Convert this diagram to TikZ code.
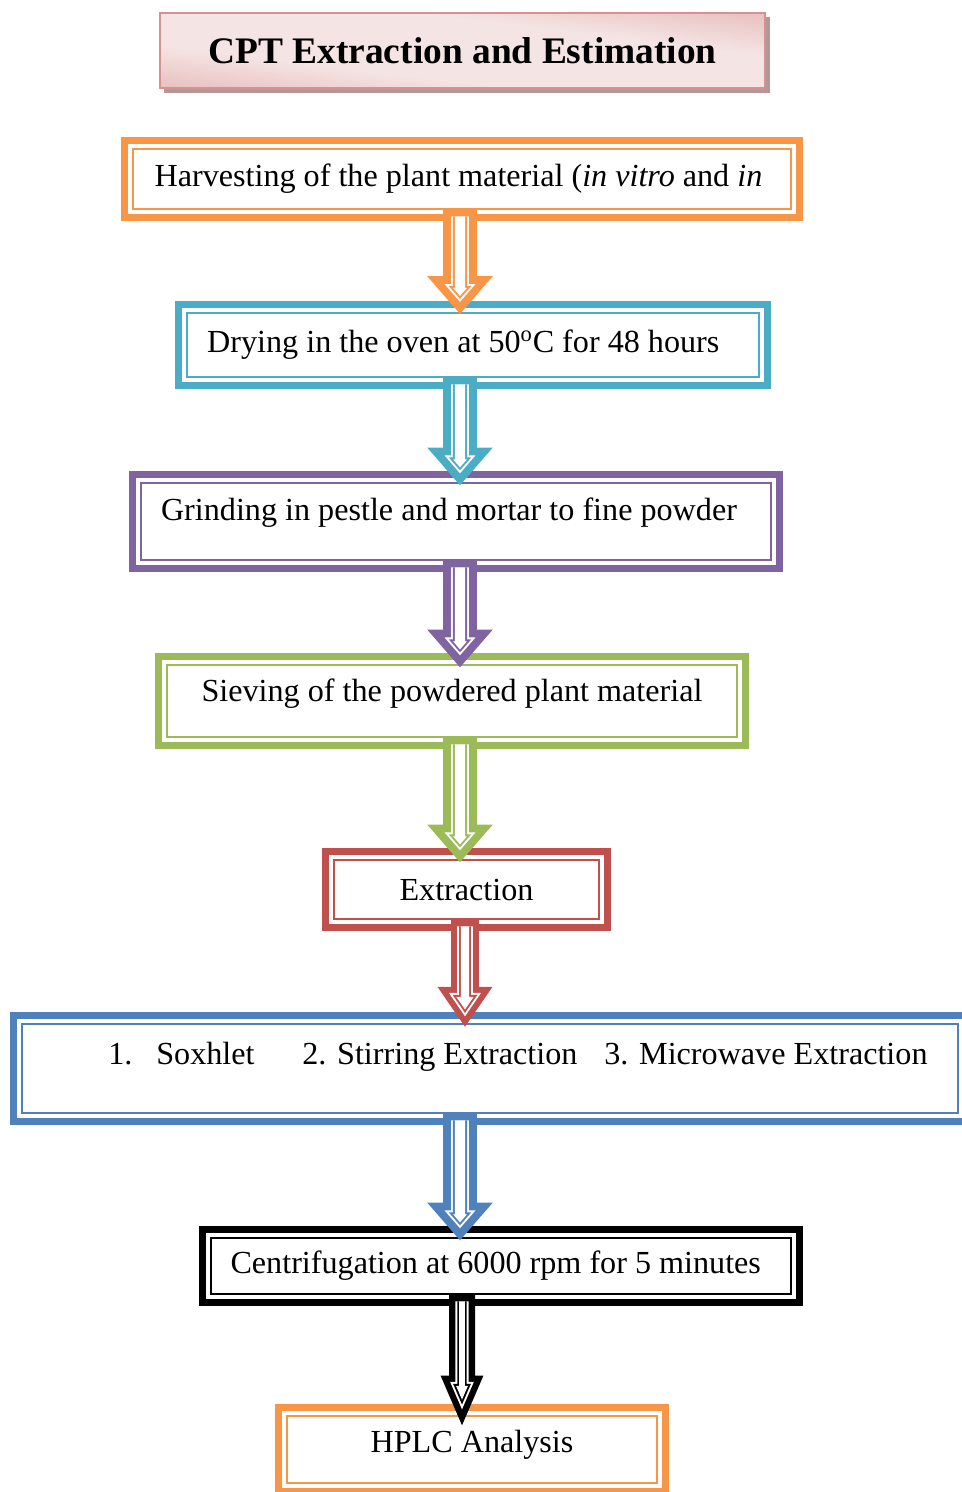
\documentclass[tikz,border=0pt]{standalone}
\usepackage{fontspec}
\setmainfont{Liberation Serif}
\usetikzlibrary{backgrounds}

\definecolor{flowOrange}{RGB}{247,150,70}
\definecolor{flowTeal}{RGB}{75,172,198}
\definecolor{flowPurple}{RGB}{128,100,162}
\definecolor{flowGreen}{RGB}{155,187,89}
\definecolor{flowRed}{RGB}{192,80,77}
\definecolor{flowBlue}{RGB}{79,129,189}
\definecolor{titleDark}{RGB}{215,145,143}
\definecolor{titleLight}{RGB}{245,228,228}
\definecolor{titleShadow}{RGB}{178,152,152}

\pgfdeclareverticalshading{titleshade}{100bp}{color(0bp)=(titleDark); color(42bp)=(titleDark);
  color(48bp)=(titleLight); color(52bp)=(titleLight); color(58bp)=(titleDark); color(100bp)=(titleDark)}

\tikzset{
  stepbox/.style={draw=#1, line width=1.4pt, fill=white, inner sep=0pt,
    font=\fontsize{18.3}{22}\selectfont},
  titlebox/.style={draw=titleDark, line width=0.8pt,
    font=\fontsize{21.3}{25}\selectfont\bfseries},
  itemtext/.style={anchor=base west, inner sep=0pt, font=\fontsize{18.3}{22}\selectfont}
}

% one filled layer of a block arrow, inset by #2 pt
\newcommand{\arrowlayer}[6]{%
  \fill[#1] ([xshift={-(#4-(#2))*1pt}, yshift={-(#3)*1pt}]s)
    -- ([xshift={-(#4-(#2))*1pt}, yshift={(#6-(#2))*1pt}]t)
    -- ([xshift={-(#5*(#6-(#2))/#6-(#2)*veclen(#5,#6)/#6)*1pt}, yshift={(#6-(#2))*1pt}]t)
    -- ([yshift={(#2)*veclen(#5,#6)/#5*1pt}]t)
    -- ([xshift={(#5*(#6-(#2))/#6-(#2)*veclen(#5,#6)/#6)*1pt}, yshift={(#6-(#2))*1pt}]t)
    -- ([xshift={(#4-(#2))*1pt}, yshift={(#6-(#2))*1pt}]t)
    -- ([xshift={(#4-(#2))*1pt}, yshift={-(#3)*1pt}]s) -- cycle;}

% colour, from, to, axis x, half shaft, half head, head length, inset, tip drop
\newcommand{\flowarrow}[9]{%
  \coordinate (ax) at (#4,0);
  \path (#2.south -| ax) coordinate (s);
  \path (#3.north -| ax) ++(0,-#9pt) coordinate (t);
  \arrowlayer{#1}{0}{0}{#5}{#6}{#7}
  \arrowlayer{white}{#8}{3.5}{#5}{#6}{#7}
  \arrowlayer{#1}{#8+1.1}{3.5}{#5}{#6}{#7}
  \arrowlayer{white}{#8+2.2}{3.5}{#5}{#6}{#7}}

\begin{document}
\begin{tikzpicture}[x=0.02cm, y=-0.02cm]
  \useasboundingbox (0,0) rectangle (961,1492);

  % title
  \node[titlebox, minimum width=12.1cm, minimum height=1.5cm] (title) at (462.5,50.5)
    {CPT Extraction and Estimation};
  \begin{scope}[on background layer]
    \fill[titleShadow] ([shift={(2.6pt,-2.6pt)}]title.south west)
      rectangle ([shift={(2.6pt,-2.6pt)}]title.north east);
    \clip (title.south west) rectangle (title.north east);
    \begin{scope}[shift={(title.center)}]
      \shade[shading=titleshade, shading angle=-7] (-400,-400) rectangle (400,400);
    \end{scope}
  \end{scope}

  % steps
  \node[stepbox=flowOrange, minimum width=13.16cm, minimum height=1.2cm] (harvest) at (462,179)
    {Harvesting of the plant material (\textit{in vitro} and \textit{in}\hspace*{4pt}};
  \node[stepbox=flowTeal, minimum width=11.44cm, minimum height=1.28cm] (dry) at (473,345)
    {Drying in the oven at 50\textsuperscript{o}C for 48 hours\hspace*{11pt}};
  \node[stepbox=flowPurple, minimum width=12.6cm, minimum height=1.54cm, text depth=14pt] (grind) at (456,521.5)
    {Grinding in pestle and mortar to fine powder\hspace*{8pt}};
  \node[stepbox=flowGreen, minimum width=11.4cm, minimum height=1.44cm, text depth=12pt] (sieve) at (452,701)
    {Sieving of the powdered plant material};
  \node[stepbox=flowRed, minimum width=5.3cm, minimum height=1.18cm] (extract) at (466.5,889.5)
    {Extraction};
  \node[stepbox=flowBlue, minimum width=18.72cm, minimum height=1.78cm] (methods) at (490,1068.5) {};
  \node[stepbox=black, minimum width=11.6cm, minimum height=1.12cm] (centri) at (501,1266)
    {Centrifugation at 6000 rpm for 5 minutes\hspace*{6pt}};
  \node[stepbox=flowOrange, minimum width=7.4cm, minimum height=1.34cm, text depth=9pt] (hplc) at (472,1449.5)
    {HPLC Analysis};

  % methods
  \node[itemtext] (num1) at (108,1064) {1.};
  \node[itemtext] (soxhlet) at (156,1064) {Soxhlet};
  \node[itemtext] (stirring) at (302,1064) {2. Stirring Extraction};
  \node[itemtext] (microwave) at (604,1064) {3. Microwave Extraction};

  % thick outer frames
  \foreach \n/\c in {harvest/flowOrange, dry/flowTeal, grind/flowPurple, sieve/flowGreen,
      extract/flowRed, methods/flowBlue, centri/black, hplc/flowOrange}
    \draw[\c, line width=4pt] ([shift={(-4.4pt,4.4pt)}]\n.north west)
      rectangle ([shift={(4.4pt,-4.4pt)}]\n.south east);

  % arrows
  \flowarrow{flowOrange}{harvest}{dry}{460}{9.6}{18.7}{21.5}{4.5}{1.2}
  \flowarrow{flowTeal}{dry}{grind}{460}{9.6}{18.7}{21.5}{4.5}{2}
  \flowarrow{flowPurple}{grind}{sieve}{460}{9.6}{18.7}{21.5}{4.5}{2}
  \flowarrow{flowGreen}{sieve}{extract}{460}{9.6}{18.7}{21.5}{4.5}{2}
  \flowarrow{flowRed}{extract}{methods}{465}{7.9}{15.6}{22.7}{3.4}{2.3}
  \flowarrow{flowBlue}{methods}{centri}{460}{9.6}{18.7}{21.5}{4.5}{2}
  \flowarrow{black}{centri}{hplc}{462}{7.4}{12.2}{28.3}{3.6}{6}
\end{tikzpicture}
\end{document}
